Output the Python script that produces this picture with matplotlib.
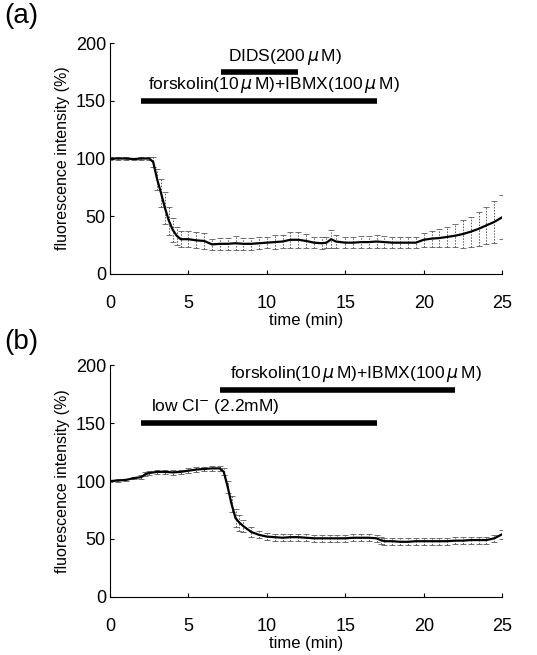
import numpy as np
import matplotlib.pyplot as plt

plt.rcParams['font.family'] = ['Liberation Sans', 'DejaVu Sans']

# panel (a): forskolin+IBMX, then DIDS
t_a = [0, 0.5, 1, 1.5, 2, 2.5, 2.75, 3, 3.25, 3.5, 3.75, 4, 4.25, 4.5,
       5, 5.5, 6, 6.5, 7, 7.5, 8, 8.5, 9, 9.5, 10,
       10.5, 11, 11.5, 12, 12.5, 13, 13.5, 13.8, 14.1, 14.4,
       15, 15.5, 16, 16.5, 17, 17.5, 18, 18.5, 19, 19.5, 20,
       20.5, 21, 21.5, 22, 22.5, 23, 23.5, 24, 24.5, 25]
mean_a = [100, 100, 100, 99.5, 100, 100, 97, 82, 70, 57, 46, 38, 33, 30,
          30, 29, 28.5, 25.5, 26, 26, 26.5, 26, 26, 26.5, 27,
          27.5, 28, 29.5, 29.5, 28.5, 27, 26.5, 27, 30, 28,
          27, 27, 27.5, 27.5, 28, 27.5, 27, 27, 27, 27, 29.5,
          30.5, 31, 32, 33, 34.5, 36.5, 39, 42, 45, 49]
sd_a = [1, 1, 1, 1, 1, 1, 4, 9, 12, 14, 12, 10, 8, 7,
        7, 7, 7, 5, 5, 5, 6, 5, 5, 5, 5,
        6, 6, 7, 7, 6, 5, 5, 5, 8, 6,
        5, 5, 5, 5, 6, 5, 5, 5, 5, 5, 6,
        7, 8, 9, 10, 12, 13, 15, 16, 18, 19]

# panel (b): low Cl-, then forskolin+IBMX
t_b = [0, 0.5, 1, 1.5, 2, 2.25, 2.5, 3, 3.5, 4, 4.5, 5, 5.5, 6, 6.5, 7,
       7.25, 7.5, 7.75, 8, 8.25, 8.5, 9, 9.5, 10,
       10.5, 11, 11.5, 12, 12.5, 13, 13.5, 14, 14.5, 15, 15.5, 16, 16.5, 17,
       17.25, 17.5, 18, 18.5, 19, 19.5, 20,
       20.5, 21, 21.5, 22, 22.5, 23, 23.5, 24, 24.5, 25]
mean_b = [100, 100.5, 101, 102.5, 103.5, 106, 107, 108, 108, 107.5, 108, 109, 110, 110.5, 111, 111,
          108, 95, 80, 68, 64, 61, 56, 53.5, 52,
          51.5, 51, 51.5, 51.5, 51, 50.5, 50.5, 50.5, 50.5, 50.5, 51, 51, 51, 50.5,
          49, 48, 48, 47.5, 47.5, 48, 48,
          48, 48, 48, 48.5, 48.5, 49, 49, 49, 50.5, 54]
sd_b = [1, 1, 1, 1, 1.5, 2, 2, 2, 2, 2, 2, 2, 2, 2, 2, 2,
        3, 5, 7, 8, 7, 5, 4, 3, 3,
        3, 3, 3, 3, 3, 3, 3, 3, 3, 3, 3, 3, 3, 3,
        3, 3, 3, 3, 3, 3, 3,
        3, 3, 3, 3, 3, 3, 3, 3, 3, 4]

fig = plt.figure(figsize=(5.37, 6.55), dpi=100)
ax_a = fig.add_axes([0.205, 0.582, 0.730, 0.352])
ax_b = fig.add_axes([0.205, 0.089, 0.730, 0.353])

def draw(ax, t, m, s):
    eb = ax.errorbar(t, m, yerr=s, fmt='none', ecolor='0.35', elinewidth=0.7,
                     capsize=2, capthick=0.6)
    eb[2][0].set_linestyle((0, (1.5, 1.5)))
    ax.plot(t, m, color='black', lw=1.6)
    ax.set_xlim(0, 25)
    ax.set_ylim(0, 200)
    ax.set_xticks([0, 5, 10, 15, 20, 25])
    ax.set_yticks([0, 50, 100, 150, 200])
    for sp in ['top', 'right']:
        ax.spines[sp].set_visible(False)
    ax.tick_params(direction='in', length=3, labelsize=13)
    ax.tick_params(axis='x', pad=15)
    ax.tick_params(axis='y', pad=3)
    ax.set_xlabel('time (min)', fontsize=12, labelpad=1)
    ax.set_ylabel('fluorescence intensity (%)', fontsize=11.5, labelpad=4)

draw(ax_a, t_a, mean_a, sd_a)
draw(ax_b, t_b, mean_b, sd_b)

# treatment bars (a)
ax_a.plot([2, 17], [150, 150], color='black', lw=4, solid_capstyle='butt')
ax_a.text(2.4, 155, 'forskolin(10$\\,\\mu\\,$M)+IBMX(100$\\,\\mu\\,$M)', fontsize=12.5, va='bottom')
ax_a.plot([7.1, 12], [175, 175], color='black', lw=4, solid_capstyle='butt')
ax_a.text(7.5, 179, 'DIDS(200$\\,\\mu\\,$M)', fontsize=12.5, va='bottom')

# treatment bars (b)
ax_b.plot([7, 22], [179, 179], color='black', lw=4, solid_capstyle='butt')
ax_b.text(7.65, 184, 'forskolin(10$\\,\\mu\\,$M)+IBMX(100$\\,\\mu\\,$M)', fontsize=12.5, va='bottom')
ax_b.plot([2, 17], [150, 150], color='black', lw=4, solid_capstyle='butt')
ax_b.text(2.6, 156, 'low Cl$^{-}$ (2.2mM)', fontsize=12.5, va='bottom')

fig.text(0.008, 0.995, '(a)', fontsize=20, va='top', ha='left')
fig.text(0.008, 0.498, '(b)', fontsize=20, va='top', ha='left')

fig.savefig('out.png', dpi=100)
